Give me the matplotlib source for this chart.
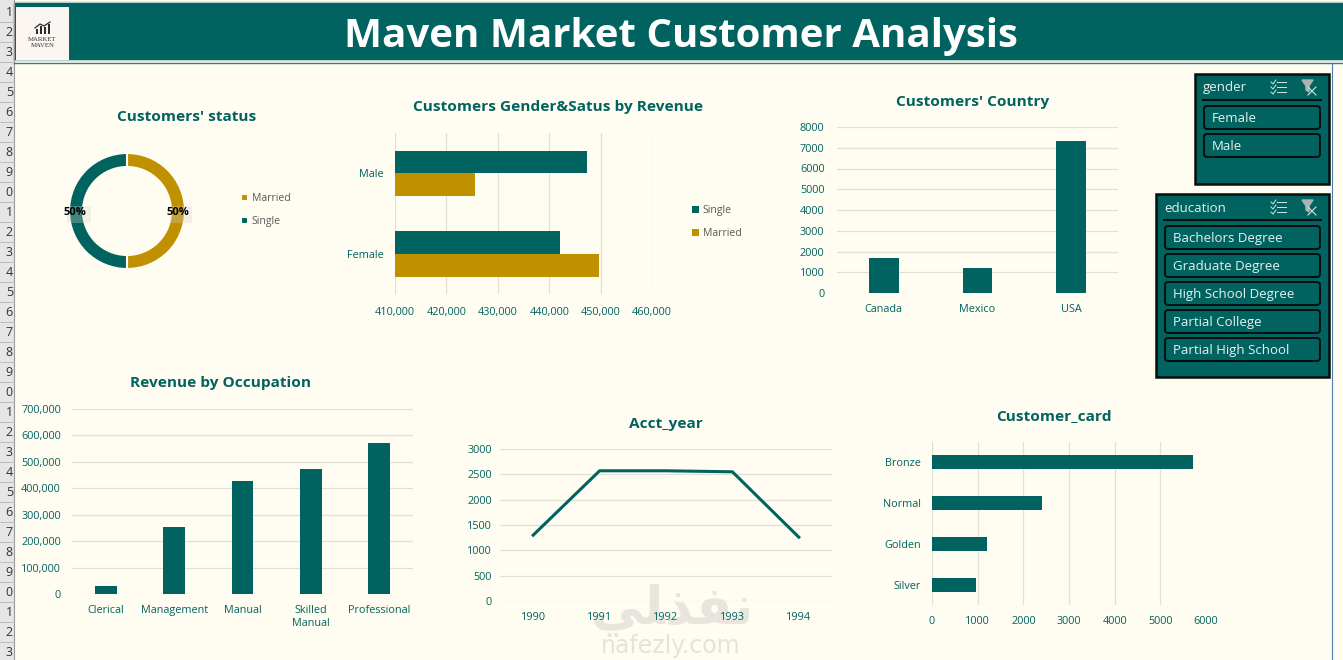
import matplotlib
matplotlib.use('Agg')
from matplotlib import pyplot as plt
from matplotlib.patches import Rectangle, FancyBboxPatch
from matplotlib.ticker import FuncFormatter

W, H = 1343, 660
TEAL = '#00635f'
GOLD = '#bf9000'
BG = '#fffcf2'
GRID = '#e2dfd3'
GREY = '#595959'
DARK = '#060d0b'
plt.rcParams['font.family'] = ['Open Sans', 'DejaVu Sans']

status_labels = ['Married', 'Single']
status_values = [50, 50]

gender_labels = ['Female', 'Male']
gender_single = [442100, 447300]
gender_married = [449700, 425500]

countries = ['Canada', 'Mexico', 'USA']
country_values = [1690, 1205, 7330]

occupations = ['Clerical', 'Management', 'Manual', 'Skilled\nManual', 'Professional']
occupation_revenue = [30000, 253000, 427000, 473000, 571000]

years = ['1990', '1991', '1992', '1993', '1994']
year_values = [1300, 2570, 2570, 2550, 1260]

cards = ['Silver', 'Golden', 'Normal', 'Bronze']
card_values = [960, 1200, 2410, 5710]

gender_slicer = ['Female', 'Male']
education_slicer = ['Bachelors Degree', 'Graduate Degree', 'High School Degree',
                    'Partial College', 'Partial High School']

fig = plt.figure(figsize=(W / 100, H / 100), dpi=100, facecolor=BG)


# axes from pixel box, y counted from the top of the picture
def px_axes(left, top, right, bottom, z=2):
    ax = fig.add_axes([left / W, 1 - bottom / H, (right - left) / W, (bottom - top) / H])
    ax.set_facecolor('none')
    ax.set_zorder(z)
    for s in ax.spines.values():
        s.set_visible(False)
    ax.tick_params(length=0, labelsize=7.8, labelcolor=TEAL, pad=6)
    return ax


def title(x, y, txt):
    fig.text(x / W, 1 - (y + 1) / H, txt, color=TEAL, fontsize=11.1, fontweight='bold',
             ha='center', va='center', zorder=6)


def legend(x, y, handles, labels):
    fig.legend(handles, labels, loc='center left', bbox_to_anchor=(x / W, 1 - y / H),
               frameon=False, fontsize=7.6, labelcolor=GREY, handlelength=0.65,
               handleheight=0.65, handletextpad=0.35, labelspacing=1.12,
               borderpad=0, borderaxespad=0)


# page furniture drawn in pixel coordinates
bg = fig.add_axes([0, 0, 1, 1])
bg.set_xlim(0, W)
bg.set_ylim(H, 0)
bg.axis('off')
bg.set_zorder(1)

bg.add_patch(Rectangle((0, 0), 14, H, fc='#e6e6e6', ec='none'))
bg.plot([14, 14], [0, H], color='#9a9a9a', lw=0.8)
for row in range(1, 34):
    y = 12 + 20 * (row - 1)
    bg.text(13, y, str(row)[-1], fontsize=9, color='#333333', ha='right', va='center', clip_on=True)
    bg.plot([0, 14], [y + 10, y + 10], color='#b5b5b5', lw=0.6)

bg.add_patch(Rectangle((13, 2), W, 59, fc=TEAL, ec='#d8e8e4', lw=1.2))
bg.plot([14, W], [63, 63], color='#3d7c78', lw=1)
bg.plot([1332, 1332], [63, H], color='#4f7fa8', lw=0.8)
bg.add_patch(Rectangle((16, 7), 53, 53, fc='#fbf6f1', ec='none'))
bg.text(680.5, 36.5, 'Maven Market Customer Analysis', color='white', fontsize=29,
        fontweight='bold', ha='center', va='center')

# logo
for bx, bh in zip([36, 40, 44, 48], [5, 8, 7, 10]):
    bg.add_patch(Rectangle((bx, 34 - bh), 2.4, bh, fc='#2b2b2b', ec='none'))
bg.plot([35, 40, 44, 50], [28, 24, 26, 22], color='#2b2b2b', lw=0.9)
bg.text(42.5, 39.5, 'MARKET', fontsize=4.9, color='#333333', ha='center', va='center', family='Liberation Serif')
bg.text(42.5, 45.5, 'MAVEN', fontsize=4.9, color='#333333', ha='center', va='center', family='Liberation Serif')


def slicer(left, top, right, bottom, name, items):
    bg.add_patch(Rectangle((left, top), right - left, bottom - top, fc=TEAL, ec=DARK, lw=1.8))
    bg.text(left + 8, top + 14, name, color='#e6f2ef', fontsize=9.5, va='center')
    bg.plot([left + 8, right - 8], [top + 26, top + 26], color=DARK, lw=1.5)
    # select-all and clear icons
    ix = right - 58
    for k in range(3):
        bg.plot([ix + 6, ix + 15], [top + 8 + k * 5] * 2, color='#d5e5e2', lw=0.7)
        bg.plot([ix, ix + 2, ix + 5], [top + 8 + k * 5, top + 10 + k * 5, top + 6 + k * 5], color='#d5e5e2', lw=0.7)
    fx = right - 27
    bg.fill([fx, fx + 11, fx + 7, fx + 7, fx + 4, fx + 4], [top + 6, top + 6, top + 12, top + 18, top + 16, top + 12],
            color='#a9b3b1')
    bg.plot([fx + 6, fx + 14], [top + 13, top + 21], color='#d5e5e2', lw=0.8)
    bg.plot([fx + 14, fx + 6], [top + 13, top + 21], color='#d5e5e2', lw=0.8)
    for i, item in enumerate(items):
        y0 = top + 32 + i * 28
        bg.add_patch(FancyBboxPatch((left + 9, y0), right - left - 18, 23, boxstyle='round,pad=0,rounding_size=3',
                                    fc=TEAL, ec=DARK, lw=1.4))
        bg.text(left + 17, y0 + 12.5, item, color='#e6f2ef', fontsize=9.5, va='center')


slicer(1195, 74, 1329, 184, 'gender', gender_slicer)
slicer(1156, 194, 1329, 377, 'education', education_slicer)

# watermark
bg.text(672, 610, '\ufef2\ufee0\ufeac\ufed4\ufee7', fontsize=38, color='#8a8a8a', alpha=0.2,
        fontweight='bold', ha='center', va='center', family='DejaVu Sans')
bg.text(671, 646, 'nafezly.com', fontsize=17, color='#8a8a8a', alpha=0.22, ha='center', va='center',
        family='DejaVu Sans')

# donut
ax = px_axes(62, 146, 192, 276)
wedges, _ = ax.pie(status_values, colors=[GOLD, TEAL], startangle=90, counterclock=False,
                   radius=58 / 65, wedgeprops=dict(width=14 / 65, edgecolor=BG, linewidth=1.5))
ax.set_xlim(-1, 1)
ax.set_ylim(-1, 1)
for px_x in [75, 178]:
    ax.add_patch(Rectangle(((px_x + 4 - 127) / 65 - 0.19, -0.19), 0.38, 0.26, fc='#d8d4c8', ec='none', alpha=0.3, zorder=5))
    ax.text((px_x - 127) / 65, -0.03, '50%', fontsize=8, fontweight='bold', color='black',
            ha='center', va='center', zorder=6)
title(186.5, 116, "Customers' status")
legend(241, 210, wedges, status_labels)

# gender and status by revenue
ax = px_axes(395, 133, 652, 294)
ypos = range(len(gender_labels))
b1 = ax.barh([y + 0.14 for y in ypos], gender_single, 0.285, color=TEAL, zorder=3)
b2 = ax.barh([y - 0.145 for y in ypos], gender_married, 0.285, color=GOLD, zorder=3)
ax.set_xlim(410000, 460000)
ax.set_ylim(-0.5, 1.5)
ax.set_yticks(list(ypos), gender_labels)
ax.set_xticks(range(410000, 470000, 10000))
ax.xaxis.set_major_formatter(FuncFormatter(lambda v, p: format(int(v), ',')))
ax.grid(axis='x', color=GRID, lw=0.9, zorder=0)
ax.tick_params(axis='x', pad=9)
ax.tick_params(axis='y', pad=8)
title(558, 106, 'Customers Gender&Satus by Revenue')
legend(692, 222, [b1, b2], ['Single', 'Married'])

# country
ax = px_axes(837, 127, 1118, 293)
ax.bar(countries, country_values, 0.32, color=TEAL, zorder=3)
ax.set_xlim(-0.5, 2.5)
ax.set_ylim(0, 8000)
ax.set_yticks(range(0, 9000, 1000))
ax.grid(axis='y', color=GRID, lw=0.9, zorder=0)
ax.tick_params(axis='x', pad=8)
ax.tick_params(axis='y', pad=9)
title(973, 101, "Customers' Country")

# occupation
ax = px_axes(72, 409, 413, 594)
ax.bar(occupations, occupation_revenue, 0.32, color=TEAL, zorder=3)
ax.set_xlim(-0.5, 4.5)
ax.set_ylim(0, 700000)
ax.set_yticks(range(0, 800000, 100000))
ax.yaxis.set_major_formatter(FuncFormatter(lambda v, p: format(int(v), ',')))
ax.grid(axis='y', color=GRID, lw=0.9, zorder=0)
ax.tick_params(axis='x', pad=8)
ax.tick_params(axis='y', pad=8)
title(220, 382, 'Revenue by Occupation')

# account year
ax = px_axes(500, 449, 832, 601)
ax.plot(years, year_values, color=TEAL, lw=2.2, zorder=3)
ax.set_xlim(-0.5, 4.5)
ax.set_ylim(0, 3000)
ax.set_yticks(range(0, 3500, 500))
ax.grid(axis='y', color=GRID, lw=0.9, zorder=0)
ax.tick_params(axis='x', pad=8)
title(666, 423, 'Acct_year')

# customer card
ax = px_axes(932, 442, 1206, 605)
ax.barh(cards, card_values, 0.34, color=TEAL, zorder=3)
ax.set_xlim(0, 6000)
ax.set_ylim(-0.5, 3.5)
ax.set_xticks(range(0, 7000, 1000))
ax.grid(axis='x', color=GRID, lw=0.9, zorder=0)
ax.tick_params(axis='x', pad=8)
ax.tick_params(axis='y', pad=8)
title(1054, 415, 'Customer_card')

fig.savefig('out.png', dpi=100, facecolor=BG)
